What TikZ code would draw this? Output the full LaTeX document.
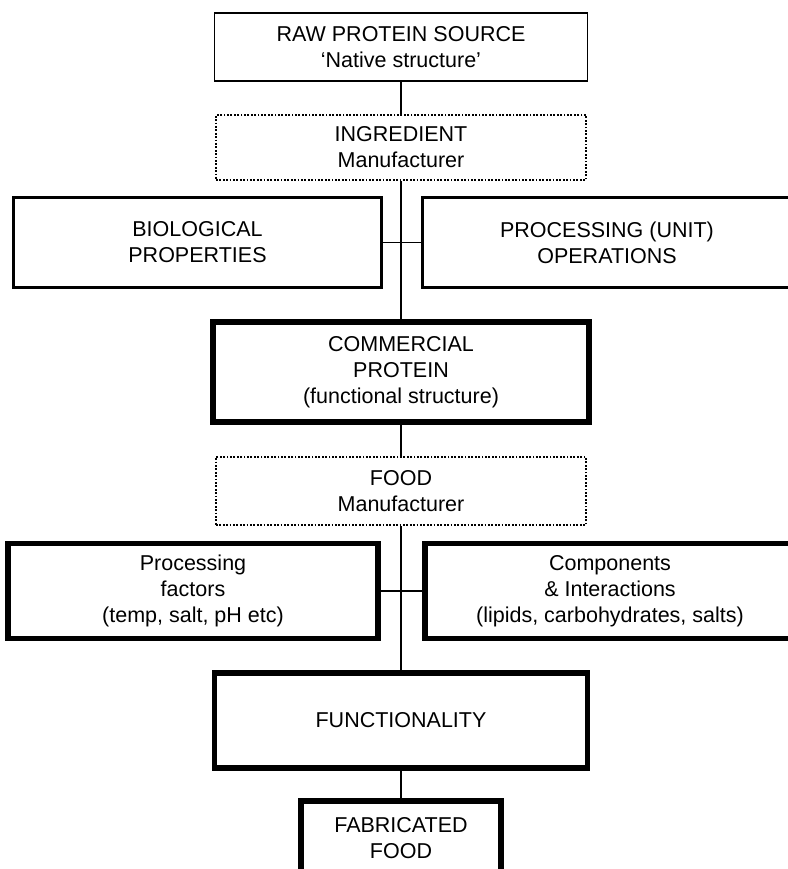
\documentclass[tikz,border=0pt]{standalone}
\usepackage{fontspec}
\setmainfont{Liberation Sans}

\begin{document}
\begin{tikzpicture}
	  [x=1pt,y=-1pt,
	   every node/.style={rectangle,align=center,inner sep=0pt,
	     font=\fontsize{21.5}{26}\selectfont},
	   thinbox/.style={draw,line width=1.5pt},
	   dotbox/.style={draw,line width=2.5pt,dash pattern=on 1.8pt off 1.6pt},
	   midbox/.style={draw,line width=3pt},
	   thickbox/.style={draw,line width=5.5pt},
	   link/.style={line width=1.5pt}]
	\useasboundingbox (0,0) rectangle (787,869);

	\node[thinbox,minimum width=373pt,minimum height=68pt] (raw) at (401,47)
	  {RAW PROTEIN SOURCE\\`Native structure'};
	\node[dotbox,minimum width=370pt,minimum height=65pt] (ingr) at (401,147.5)
	  {INGREDIENT\\Manufacturer};
	\node[midbox,minimum width=368pt,minimum height=90pt] (bio) at (197.5,242.5)
	  {BIOLOGICAL\\PROPERTIES};
	\node[midbox,minimum width=370pt,minimum height=90pt] (proc) at (607,242.5)
	  {PROCESSING (UNIT)\\OPERATIONS};
	\node[thickbox,minimum width=376pt,minimum height=100pt] (comm) at (401,372)
	  {COMMERCIAL\\PROTEIN\\(functional structure)};
	\node[dotbox,minimum width=370pt,minimum height=68pt] (food) at (401,491)
	  {FOOD\\Manufacturer};
	\node[thickbox,minimum width=370pt,minimum height=95pt] (fact) at (193,591)
	  {Processing\\factors\\(temp, salt, pH etc)};
	\node[thickbox,minimum width=370pt,minimum height=95pt] (comp) at (610,591)
	  {Components\\\& Interactions\\(lipids, carbohydrates, salts)};
	\node[thickbox,minimum width=373pt,minimum height=95pt] (func) at (401,720.5)
	  {FUNCTIONALITY};
	\node[thickbox,minimum width=200pt,minimum height=74pt] (fab) at (401,838)
	  {FABRICATED\\FOOD};

	\foreach \from/\to in {raw/ingr,ingr/comm,comm/food,food/func,func/fab}
	  \draw[link] (\from.south) -- (\to.north);
	\foreach \from/\to in {bio/proc,fact/comp}
	  \draw[link] (\from.east) -- (\to.west);
	\end{tikzpicture}
\end{document}
